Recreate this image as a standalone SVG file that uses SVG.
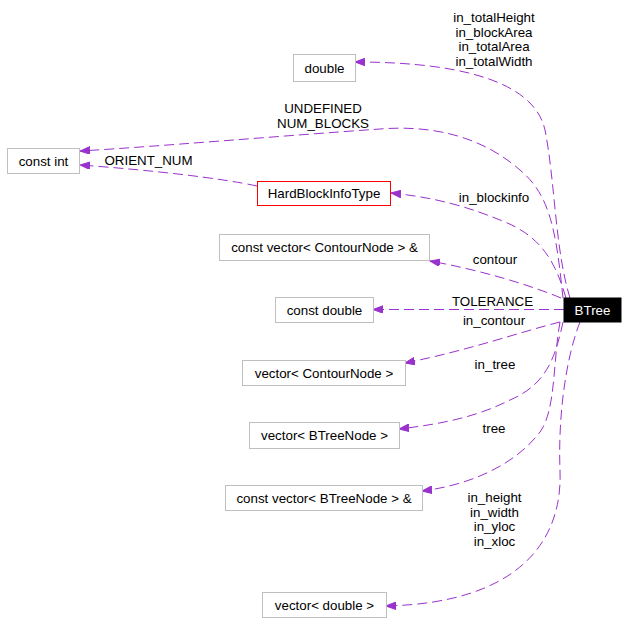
<svg xmlns="http://www.w3.org/2000/svg" width="628" height="635" viewBox="0 0 628 635">
<style>
.n rect{fill:#ffffff;stroke:#bfbfbf;stroke-width:1}
.n text{font-family:"Liberation Sans",Arial,sans-serif;font-size:13.33px;fill:#000000;text-anchor:middle}
.e path{fill:none;stroke:#9a32cd;stroke-width:1;stroke-dasharray:10,5}
.l{font-family:"Liberation Sans",Arial,sans-serif;font-size:13.33px;fill:#000000;text-anchor:middle}
</style>
<defs>
<marker id="ah" markerUnits="userSpaceOnUse" markerWidth="11" markerHeight="8" refX="10" refY="3.75" orient="auto">
<path d="M0,0 L10,3.75 L0,7.5 z" fill="#9a32cd" stroke="#9a32cd" stroke-width="1" stroke-dasharray="none"/>
</marker>
</defs>
<rect width="628" height="635" fill="#ffffff"/>
<g id="connectors" class="e">
<path marker-end="url(#ah)" d="M570,298 C555,250 555,180 545,130 C535,85 470,62 355,62"/>
<path marker-end="url(#ah)" d="M563,298 C556,230 550,195 520,170 C480,135 430,125 380,129 C280,136 150,147 80,151"/>
<path marker-end="url(#ah)" d="M257,186 C220,178 150,170 80,165"/>
<path marker-end="url(#ah)" d="M566,298 C555,260 540,235 500,220 C470,208 440,198 391,193"/>
<path marker-end="url(#ah)" d="M561,298 C530,285 480,270 430,261"/>
<path marker-end="url(#ah)" d="M564,309.5 L373,309.5"/>
<path marker-end="url(#ah)" d="M560,322 C520,332 470,350 405,363"/>
<path marker-end="url(#ah)" d="M563,322 C555,360 545,385 510,400 C480,415 450,423 399,429"/>
<path marker-end="url(#ah)" d="M560,322 C553,360 556,410 540,432 C515,465 470,485 422,491"/>
<path marker-end="url(#ah)" d="M580,322 C565,360 558,420 560,470 C563,540 520,603 386,606"/>
</g>
<g id="labels">
<text class="l" x="494" y="22">in_totalHeight</text>
<text class="l" x="494" y="36.5">in_blockArea</text>
<text class="l" x="494" y="51">in_totalArea</text>
<text class="l" x="494" y="65.5">in_totalWidth</text>
<text class="l" x="323" y="113">UNDEFINED</text>
<text class="l" x="323" y="127.5">NUM_BLOCKS</text>
<text class="l" x="148.5" y="165">ORIENT_NUM</text>
<text class="l" x="494" y="202">in_blockinfo</text>
<text class="l" x="495" y="264">contour</text>
<text class="l" x="492.5" y="306">TOLERANCE</text>
<text class="l" x="494" y="325">in_contour</text>
<text class="l" x="495" y="369">in_tree</text>
<text class="l" x="494" y="433">tree</text>
<text class="l" x="494.5" y="502">in_height</text>
<text class="l" x="494.5" y="516.5">in_width</text>
<text class="l" x="494.5" y="531">in_yloc</text>
<text class="l" x="494.5" y="545.5">in_xloc</text>
</g>
<g id="node-double" class="n"><rect x="293.5" y="54.5" width="62" height="27"/><text x="324.5" y="72.5">double</text></g>
<g id="node-constint" class="n"><rect x="7.5" y="148.5" width="72" height="25"/><text x="43.5" y="165.5">const int</text></g>
<g id="node-hardblock" class="n"><rect x="257.5" y="181.5" width="133" height="24" style="stroke:#ff0000"/><text x="324" y="198">HardBlockInfoType</text></g>
<g id="node-cvcontour" class="n"><rect x="219.5" y="234.5" width="210" height="26"/><text x="324.5" y="252">const vector&lt; ContourNode &gt; &amp;</text></g>
<g id="node-constdouble" class="n"><rect x="275.5" y="297.5" width="98" height="25"/><text x="324.5" y="314.5">const double</text></g>
<g id="node-btree" class="n"><rect x="564" y="298" width="57" height="24" style="fill:#000000;stroke:#000000"/><text x="592.5" y="314.5" style="fill:#ffffff">BTree</text></g>
<g id="node-vcontour" class="n"><rect x="242.5" y="360.5" width="163" height="25"/><text x="324" y="377.5">vector&lt; ContourNode &gt;</text></g>
<g id="node-vbtree" class="n"><rect x="249.5" y="422.5" width="150" height="26"/><text x="324.5" y="440">vector&lt; BTreeNode &gt;</text></g>
<g id="node-cvbtree" class="n"><rect x="225.5" y="485.5" width="197" height="25"/><text x="324" y="502.5">const vector&lt; BTreeNode &gt; &amp;</text></g>
<g id="node-vdouble" class="n"><rect x="262.5" y="592.5" width="124" height="25"/><text x="324.5" y="609.5">vector&lt; double &gt;</text></g>
</svg>
